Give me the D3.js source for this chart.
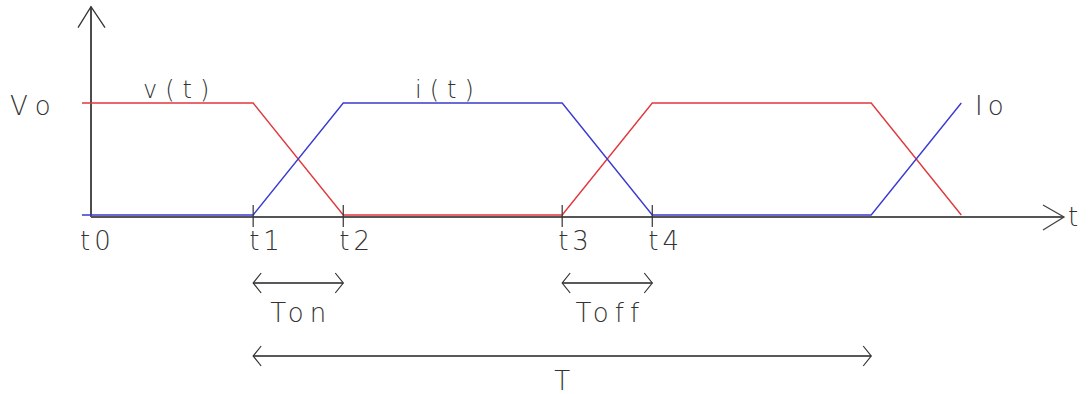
<!DOCTYPE html>
<html>
<head>
<meta charset="utf-8">
<script src="https://cdn.jsdelivr.net/npm/d3@7"></script>
<style>
  body { margin: 0; background: #fff; }
  text { font-family: "DejaVu Sans", sans-serif; font-weight: 200; fill: #333; }
</style>
</head>
<body>
<div id="container"></div>
<script>
/* CONSTANTS AND GLOBALS */
const width = 1088;
const height = 394;

/* DATA (time in units of Ton, level 0..1) */
const tickNames = ["t0", "t1", "t2", "t3", "t4"];
const tickTimes = [0, 1.8, 2.8, 5.23, 6.23];
const vTimes  = [-0.1, 1.8, 2.8, 5.23, 6.23, 8.66, 9.66];
const vLevels = [1, 1, 0, 0, 1, 1, 0];
const iTimes  = [-0.1, 1.8, 2.8, 5.23, 6.23, 8.66, 9.66];
const iLevels = [0, 0, 1, 1, 0, 0, 1];
const spans = [
  { name: "Ton",  from: 1.8,  to: 2.8,  row: 0 },
  { name: "Toff", from: 5.23, to: 6.23, row: 0 },
  { name: "T",    from: 1.8,  to: 8.66, row: 1 }
];

/* SCALES */
const xScale = d3.scaleLinear().domain([0, 10.8]).range([91, 1064]);
const yScale = d3.scaleLinear().domain([0, 1]).range([215, 103]);

const svg = d3.select("#container")
  .append("svg")
  .attr("width", width)
  .attr("height", height);

// axes
const axisY = yScale(0) + 2;
svg.append("line")
  .attr("x1", xScale(0)).attr("x2", xScale(0))
  .attr("y1", axisY).attr("y2", yScale(1.86))
  .attr("stroke", "#111").attr("stroke-width", 1.5);
svg.append("path")
  .attr("d", `M${xScale(0) - 13},${yScale(1.86) + 21} L${xScale(0)},${yScale(1.86)} L${xScale(0) + 14},${yScale(1.86) + 21}`)
  .attr("fill", "none").attr("stroke", "#333").attr("stroke-width", 1.3);

svg.append("line")
  .attr("x1", xScale(0)).attr("x2", xScale(10.8))
  .attr("y1", axisY).attr("y2", axisY)
  .attr("stroke", "#555").attr("stroke-width", 2);
svg.append("path")
  .attr("d", `M${xScale(10.8) - 21},${axisY - 12} L${xScale(10.8)},${axisY} L${xScale(10.8) - 21},${axisY + 13}`)
  .attr("fill", "none").attr("stroke", "#444").attr("stroke-width", 1.3);
svg.append("text").attr("x", xScale(10.8) + 4).attr("y", axisY + 9)
  .attr("font-size", 26).text("t");

// signals
const line = d3.line().x(d => xScale(d[0])).y(d => yScale(d[1]));
svg.append("path")
  .attr("d", line(d3.zip(vTimes, vLevels)))
  .attr("fill", "none").attr("stroke", "#e0383c").attr("stroke-width", 1.4);
svg.append("path")
  .attr("d", line(d3.zip(iTimes, iLevels)))
  .attr("fill", "none").attr("stroke", "#3a3ad2").attr("stroke-width", 1.4);

// ticks
svg.selectAll("line.tick")
  .data(tickTimes.slice(1))
  .join("line")
  .attr("class", "tick")
  .attr("x1", d => xScale(d)).attr("x2", d => xScale(d))
  .attr("y1", axisY - 12).attr("y2", axisY + 10)
  .attr("stroke", "#333").attr("stroke-width", 1.2);

svg.selectAll("text.tlabel")
  .data(tickNames)
  .join("text")
  .attr("class", "tlabel")
  .attr("x", (d, i) => xScale(tickTimes[i]) - (i === 0 ? 11 : 4))
  .attr("y", axisY + 33)
  .attr("font-size", 26)
  .attr("letter-spacing", 4)
  .text(d => d);

// level labels
svg.append("text").attr("x", 10).attr("y", yScale(1) + 12)
  .attr("font-size", 26).attr("letter-spacing", 9).text("Vo");
svg.append("text").attr("x", xScale(10.8) - 89).attr("y", yScale(1) + 12)
  .attr("font-size", 26).attr("letter-spacing", 5).text("Io");
svg.append("text").attr("x", 143).attr("y", yScale(1) - 5)
  .attr("font-size", 24).attr("letter-spacing", 8).text("v(t)");
svg.append("text").attr("x", 415).attr("y", yScale(1) - 5)
  .attr("font-size", 24).attr("letter-spacing", 8).text("i(t)");

// span arrows
const rowY = [283, 356];
const rowText = [39, 34];
const g = svg.selectAll("g.span").data(spans).join("g").attr("class", "span");
g.append("line")
  .attr("x1", d => xScale(d.from)).attr("x2", d => xScale(d.to))
  .attr("y1", d => rowY[d.row]).attr("y2", d => rowY[d.row])
  .attr("stroke", "#222").attr("stroke-width", 1.3);
g.append("path")
  .attr("d", d => {
    const y = rowY[d.row], a = xScale(d.from), b = xScale(d.to);
    return `M${a + 8},${y - 10} L${a},${y} L${a + 8},${y + 10} M${b - 8},${y - 10} L${b},${y} L${b - 8},${y + 10}`;
  })
  .attr("fill", "none").attr("stroke", "#333").attr("stroke-width", 1.2);
g.append("text")
  .attr("x", d => (xScale(d.from) + xScale(d.to)) / 2 + 3)
  .attr("y", d => rowY[d.row] + rowText[d.row])
  .attr("text-anchor", "middle")
  .attr("font-size", 26)
  .attr("letter-spacing", 6)
  .text(d => d.name);
</script>
</body>
</html>
